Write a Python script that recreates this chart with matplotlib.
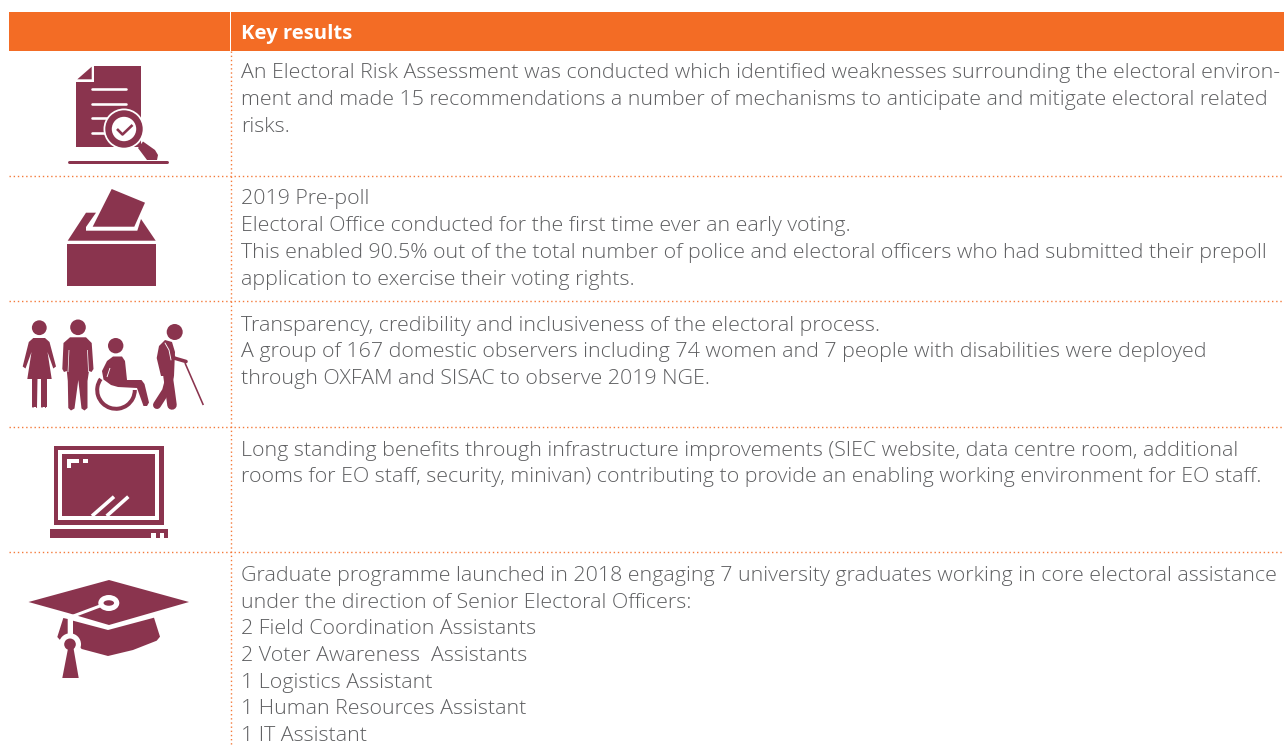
import matplotlib
matplotlib.use("Agg")
import matplotlib.pyplot as plt
from matplotlib.patches import Rectangle, Polygon, Circle, Ellipse, Wedge

W, H = 1284, 745
ORANGE = "#F36C25"
MAROON = "#8A344E"
TEXT = "#5E5F61"
FONT = "Open Sans"
FS = 15.4

HEADER = "Key results"
LINES = [
    ("An Electoral Risk Assessment was conducted which identified weaknesses surrounding the electoral environ-", 78),
    ("ment and made 15 recommendations a number of mechanisms to anticipate and mitigate electoral related", 105),
    ("risks.", 132),
    ("2019 Pre-poll", 204),
    ("Electoral Office conducted for the first time ever an early voting.", 231),
    ("This enabled 90.5% out of the total number of police and electoral officers who had submitted their prepoll", 258),
    ("application to exercise their voting rights.", 285),
    ("Transparency, credibility and inclusiveness of the electoral process.", 331),
    ("A group of 167 domestic observers including 74 women and 7 people with disabilities were deployed", 357),
    ("through OXFAM and SISAC to observe 2019 NGE.", 384),
    ("Long standing benefits through infrastructure improvements (SIEC website, data centre room, additional", 456),
    ("rooms for EO staff, security, minivan) contributing to provide an enabling working environment for EO staff.", 482),
    ("Graduate programme launched in 2018 engaging 7 university graduates working in core electoral assistance", 581),
    ("under the direction of Senior Electoral Officers:", 608),
    ("2 Field Coordination Assistants", 634),
    ("2 Voter Awareness  Assistants", 661),
    ("1 Logistics Assistant", 688),
    ("1 Human Resources Assistant", 714),
    ("1 IT Assistant", 741),
]
ROW_RULES = [176, 301, 427, 552]

fig = plt.figure(figsize=(W / 100, H / 100), dpi=100, facecolor="white")
ax = fig.add_axes([0, 0, 1, 1])
ax.set_xlim(0, W)
ax.set_ylim(H, 0)
ax.axis("off")


def rect(x0, y0, x1, y1, c=MAROON, z=3):
    ax.add_patch(Rectangle((x0, y0), x1 - x0, y1 - y0, fc=c, ec="none", zorder=z))


def poly(pts, c=MAROON, z=3):
    ax.add_patch(Polygon(pts, closed=True, fc=c, ec="none", zorder=z))


def circ(x, y, r, c=MAROON, z=3):
    ax.add_patch(Circle((x, y), r, fc=c, ec="none", zorder=z))


def stroke(xs, ys, w, c=MAROON, z=3, cap="round"):
    ax.plot(xs, ys, color=c, lw=w * 0.72, solid_capstyle=cap, solid_joinstyle="round", zorder=z)


# header band
rect(9, 12, 1284, 51, ORANGE, 1)
rect(230, 12, 231.4, 51, "white", 2)
ax.text(241, 38.5, HEADER, color="white", fontsize=14.6, fontweight="bold", family=FONT, va="baseline")

# dotted rules
for y in ROW_RULES:
    ax.plot([9, W], [y, y], color=ORANGE, lw=1.0, ls=(0, (1, 2)), alpha=0.9, zorder=1)
ax.plot([230.5, 230.5], [51, H], color=ORANGE, lw=1.0, ls=(0, (1, 2)), alpha=0.9, zorder=1)

# body text
for s, y in LINES:
    ax.text(241, y, s, color=TEXT, fontsize=FS, family=FONT, fontweight="light", va="baseline")

# icon 1: document and magnifier
poly([(94.3, 66), (141, 66), (141, 147), (76.3, 147), (76.3, 81.7), (94.3, 81.7)])
poly([(77.3, 79.3), (91.7, 66.7), (91.7, 79.3)])
for y, x1 in [(89.3, 126), (104, 126), (118.3, 110), (132.7, 110)]:
    stroke([91.5, x1], [y, y], 2.6, "white", 4)
circ(124, 129, 20.5, "white", 5)
circ(124, 129, 18.7, MAROON, 6)
circ(124, 129, 12.2, "white", 7)
stroke([117, 122.5, 132.5], [129, 134.5, 125], 2.6, MAROON, 8, "butt")
poly([(138, 148), (143, 141.5), (155, 150), (158, 155), (157, 160), (147, 160)], MAROON, 6)
stroke([69, 167], [162, 162], 3)

# icon 2: ballot box
poly([(111.7, 189), (145, 202.7), (134.3, 226.7), (92.7, 226.7)])
poly([(67.7, 240.7), (86, 212.7), (96, 212.7), (86, 227), (86, 230.7), (137.3, 230.7), (141, 219), (155.7, 240.7)])
rect(67, 244, 156, 286)

# icon 3: people
circ(39.3, 327.7, 7.4)
poly([(33.3, 338), (45, 338), (49.5, 342), (56, 366.5), (53.3, 368.5), (47.5, 352),
      (51.7, 379), (27.3, 379), (31.5, 352), (25.5, 368.5), (22.7, 366.5), (28.8, 342)])
rect(32.3, 378, 37.3, 407)
rect(41, 378, 46.5, 407)
stroke([32.5, 33], [378, 407.5], 1, MAROON)
stroke([37, 36.5], [378, 407.5], 1, MAROON)
stroke([41.5, 42], [378, 407.5], 1, MAROON)
stroke([46, 45.5], [378, 407.5], 1, MAROON)
circ(78, 327.3, 7.8)
poly([(70, 337.3), (86, 337.3), (91.7, 343), (93.5, 369), (91.5, 372), (89, 371), (87.5, 381), (87.5, 408),
      (84.5, 410.5), (81.5, 408.5), (78.3, 380), (74.5, 408.5), (71, 410.5), (68.3, 408), (67.8, 381), (66.8, 371),
      (64, 372), (62.3, 369), (63.5, 343)])
stroke([69, 68], [350, 372], 0.7, "white", 4, "butt")
stroke([87.5, 88.5], [350, 372], 0.7, "white", 4, "butt")
circ(115.7, 345.7, 7.7)
ax.add_patch(Wedge((116, 390), 20.8, 0, 216, width=4, fc=MAROON, ec="none", zorder=3))
poly([(113, 356.5), (122, 356.5), (125, 361), (127, 380), (141.5, 380), (144.5, 384), (149, 402.5), (147, 406),
      (143.5, 406), (137, 388), (118, 387), (111, 384), (103.5, 379), (102, 371), (107, 361)], "white", 4)
poly([(113, 356.5), (122, 356.5), (125, 361), (127, 380), (141.5, 380), (144.5, 384), (149, 402.5), (147, 406),
      (143.5, 406), (137, 388), (118, 387), (111, 385), (103.5, 379.5), (102, 371), (107, 361)], MAROON, 5)
stroke([110, 107], [368, 377], 0.9, "white", 6, "butt")
circ(174.7, 332, 8)
poly([(165, 340), (172, 342), (175, 352), (174, 376), (161, 376), (156.7, 358), (159, 346)])
stroke([168, 170, 172], [376, 390, 405], 9.5)
stroke([170, 166, 157], [376, 391, 405], 8)
stroke([169, 174, 186], [346, 358, 361.5], 3.6)
stroke([165, 169, 171], [343, 350, 360], 0.9, "white", 4)
stroke([185, 203.3], [363, 405], 1.6, MAROON, 3, "butt")

# icon 4: monitor
rect(54, 446, 163.5, 524.5)
rect(58.3, 450, 159.3, 520.3, "white", 4)
rect(62.3, 454.3, 155.3, 516, MAROON, 5)
rect(66.7, 459.3, 79.3, 463.3, "white", 6)
rect(66.7, 459.3, 71, 467.7, "white", 6)
rect(83, 459, 87.5, 463, "white", 6)
stroke([92, 114], [516, 496.7], 3.6, "white", 6, "butt")
stroke([106.7, 128.3], [516, 496.7], 3.6, "white", 6, "butt")
rect(49.5, 529, 168, 538)
rect(151, 533, 155.5, 538, "white", 4)
rect(159.5, 533, 164, 538, "white", 4)

# icon 5: graduation cap
poly([(28.5, 602), (109, 580), (189, 602), (109, 625), (68, 613)])
ax.add_patch(Ellipse((108.8, 603), 21, 16, fc="white", ec="none", zorder=4))
ax.add_patch(Ellipse((108.8, 603), 10.5, 5.5, fc=MAROON, ec="none", zorder=5))
stroke([100, 68], [606, 618], 3, "white", 4, "butt")
poly([(73, 620.7), (108, 630), (154, 617.7), (160, 636.7), (156.7, 640.7), (133, 650), (108, 656), (81.7, 649), (73, 640)])
poly([(63.3, 618), (67.7, 619), (67.7, 635), (60, 640), (57.3, 637)])
circ(70, 644.3, 11, "white", 4)
circ(70, 644.3, 5.8, MAROON, 5)
poly([(68.3, 647), (73.3, 647), (78.7, 678), (62.3, 678)], MAROON, 5)

fig.savefig("out.png", dpi=100, facecolor="white")
